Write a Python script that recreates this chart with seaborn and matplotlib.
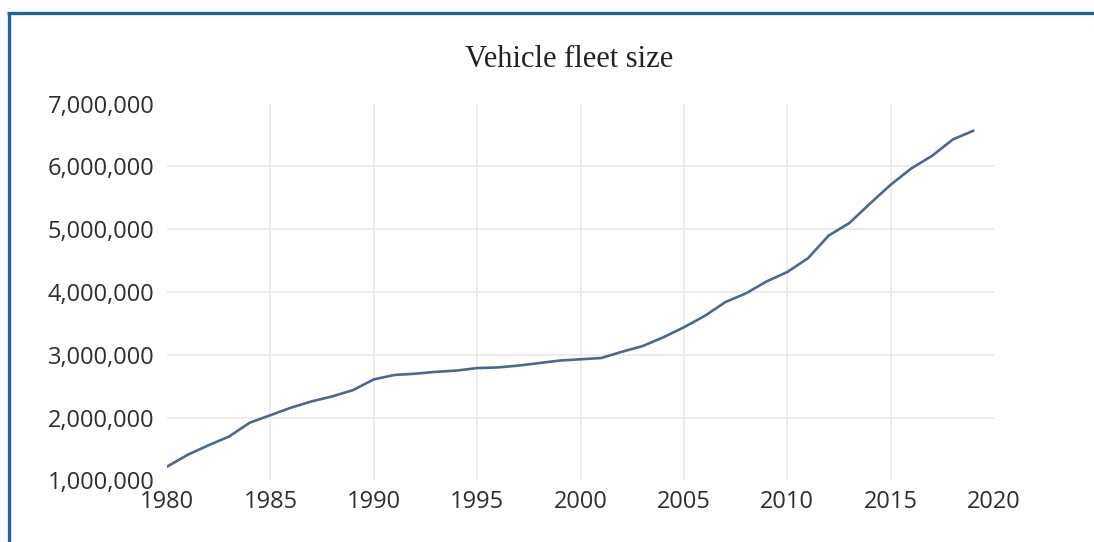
import matplotlib.pyplot as plt
import seaborn as sns
import pandas as pd
from matplotlib.lines import Line2D
from matplotlib.ticker import FuncFormatter

# vehicle fleet size
years = list(range(1980, 2020))
fleet = [1220000, 1410000, 1560000, 1700000, 1920000, 2040000, 2160000, 2260000, 2340000, 2440000,
         2610000, 2680000, 2700000, 2730000, 2750000, 2790000, 2800000, 2830000, 2870000, 2910000,
         2930000, 2950000, 3050000, 3140000, 3280000, 3440000, 3620000, 3840000, 3980000, 4170000,
         4320000, 4540000, 4900000, 5100000, 5410000, 5710000, 5970000, 6170000, 6430000, 6570000]

x_ticks = [1980, 1985, 1990, 1995, 2000, 2005, 2010, 2015, 2020]
y_ticks = [1000000, 2000000, 3000000, 4000000, 5000000, 6000000, 7000000]

df = pd.DataFrame({'year': years, 'fleet': fleet})

sns.set_style('white')
plt.rcParams['font.family'] = ['Open Sans', 'DejaVu Sans']

fig = plt.figure(figsize=(10.94, 5.42), dpi=100)
ax = fig.add_axes([0.1527, 0.1135, 0.756, 0.6952])

sns.lineplot(data=df, x='year', y='fleet', ax=ax, color='#4d6890', linewidth=1.9)

ax.set_xlim(1980, 2020)
ax.set_ylim(1000000, 7000000)
ax.set_xticks(x_ticks)
ax.set_yticks(y_ticks)
ax.yaxis.set_major_formatter(FuncFormatter(lambda v, p: f'{int(v):,}'))
ax.set_xlabel('')
ax.set_ylabel('')
ax.tick_params(axis='both', length=0, labelsize=17, colors='#2e2e2e')
ax.tick_params(axis='x', pad=7)
ax.tick_params(axis='y', pad=9)

for s in ax.spines.values():
    s.set_visible(False)

ax.grid(True, color='#ececec', linewidth=1.3)
ax.set_axisbelow(True)
# only interior gridlines, like the original
xg = ax.get_xgridlines()
yg = ax.get_ygridlines()
for g in (xg[0], xg[-1], yg[0], yg[-1]):
    g.set_visible(False)

fig.text(569 / 1094, (542 - 67) / 542, 'Vehicle fleet size', ha='center', va='baseline',
         fontsize=22, family=['Liberation Serif', 'DejaVu Serif'], color='#222222')

# blue frame on top and left
fig.add_artist(Line2D([7 / 1094, 1.0], [1 - 13 / 542, 1 - 13 / 542], color='#1a64a6',
                      linewidth=2.4, solid_capstyle='butt'))
fig.add_artist(Line2D([9 / 1094, 9 / 1094], [0.0, 1 - 13 / 542], color='#1a64a6',
                      linewidth=2.4, solid_capstyle='butt'))

fig.savefig('out.png', dpi=100)
